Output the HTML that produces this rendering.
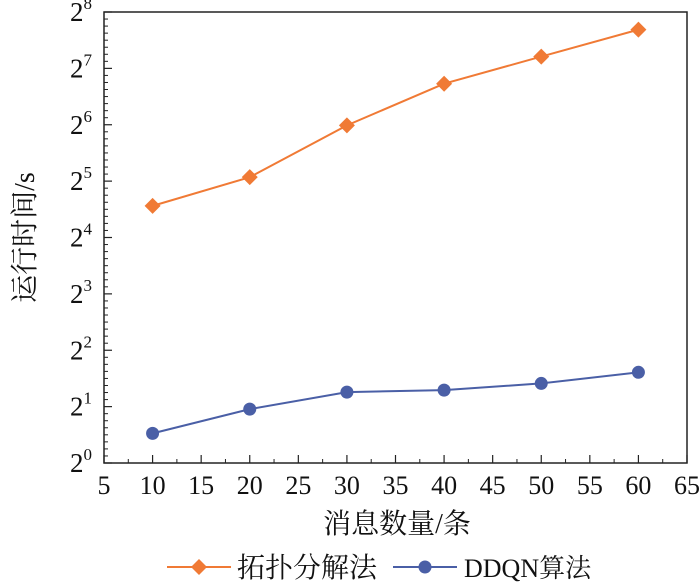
<!DOCTYPE html>
<html><head><meta charset="utf-8"><style>
body{margin:0;background:#fff;width:700px;height:582px;overflow:hidden}
text{font-family:"Liberation Serif","Noto Serif CJK SC",serif;fill:#111}
</style></head><body>
<svg id="chart" width="700" height="582" xmlns="http://www.w3.org/2000/svg"></svg>
<script>
const categories=[10,20,30,40,50,60];
const topoValues=[23.6,33.6,63.5,106,148,206];
const ddqnValues=[1.44,1.94,2.39,2.45,2.66,3.05];
const xTicks=[5,10,15,20,25,30,35,40,45,50,55,60,65];
const yPowers=[0,1,2,3,4,5,6,7,8];
const L=104,R=687,T=12,B=463;
const xs=v=>L+(v-5)/60*(R-L);
const ys=v=>B-Math.log2(v)/8*(B-T);
const svg=document.getElementById('chart');
const NS='http://www.w3.org/2000/svg';
function mk(tag,attrs,parent){const e=document.createElementNS(NS,tag);for(const k in attrs)e.setAttribute(k,attrs[k]);(parent||svg).appendChild(e);return e;}
const frame=mk('rect',{x:L,y:T,width:R-L,height:B-T,fill:'none',stroke:'#222','stroke-width':1.5});


xTicks.forEach((t,i)=>{
  const x=xs(t);
  const tk=mk('line',{x1:x,x2:x,y1:B,y2:B-8,stroke:'#222','stroke-width':1.2});
  
  
  if(i<xTicks.length-1){const m=xs(t+2.5);const mt=mk('line',{x1:m,x2:m,y1:B,y2:B-4,stroke:'#222','stroke-width':1});
  
  }
  const lb=mk('text',{x:x,y:B+31,'text-anchor':'middle','font-size':26});
  lb.textContent=t;
  
  
});
yPowers.forEach((p,i)=>{
  const y=ys(Math.pow(2,p));
  const tk=mk('line',{x1:L,x2:L+8,y1:y,y2:y,stroke:'#222','stroke-width':1.2});
  
  
  if(i<yPowers.length-1){for(let k=1;k<8;k++){const yy=y-k*(B-T)/64;const mt=mk('line',{x1:L,x2:L+4,y1:yy,y2:yy,stroke:'#222','stroke-width':1});
  
  }}
  const lb=mk('text',{x:L-12,y:y+9,'text-anchor':'end','font-size':27});
  lb.innerHTML='2<tspan dy="-12" font-size="17">'+p+'</tspan>';
  
  
});
function series(vals,color,marker,name){
  const g=mk('g',{});
  
  
  mk('polyline',{points:vals.map((v,i)=>xs(categories[i])+','+ys(v)).join(' '),fill:'none',stroke:color,'stroke-width':2},g);
  vals.forEach((v,i)=>{
    const x=xs(categories[i]),y=ys(v);
    let m;
    if(marker==='d')m=mk('polygon',{points:`${x},${y-8} ${x+8},${y} ${x},${y+8} ${x-8},${y}`,fill:color},g);
    else m=mk('circle',{cx:x,cy:y,r:6.5,fill:color},g);
    
    
  });
}
series(topoValues,'#f07a35','d','topo-series');
series(ddqnValues,'#4a5fa6','o','ddqn-series');
const xt=mk('text',{x:397,y:533,'text-anchor':'middle','font-size':28});
xt.textContent='消息数量/条';


const yt=mk('text',{x:0,y:0,'text-anchor':'middle','font-size':28,transform:`translate(34,${(T+B)/2}) rotate(-90)`});
yt.textContent='运行时间/s';


const lg=mk('g',{});


mk('line',{x1:167,x2:231,y1:567,y2:567,stroke:'#f07a35','stroke-width':2},lg);
mk('polygon',{points:'199,559 207,567 199,575 191,567',fill:'#f07a35'},lg);
const l1=mk('text',{x:237,y:577,'font-size':28},lg);l1.textContent='拓扑分解法';


mk('line',{x1:393,x2:457,y1:567,y2:567,stroke:'#4a5fa6','stroke-width':2},lg);
mk('circle',{cx:425,cy:567,r:6.5,fill:'#4a5fa6'},lg);
const l2=mk('text',{x:464,y:577,'font-size':26},lg);l2.textContent='DDQN算法';


</script>
</body></html>
